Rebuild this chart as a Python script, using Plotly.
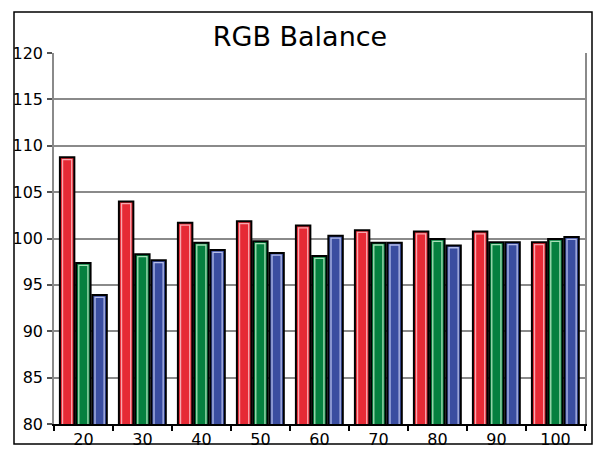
import plotly.graph_objects as go

categories = ["20", "30", "40", "50", "60", "70", "80", "90", "100"]
red_vals = [108.75, 104.0, 101.7, 101.85, 101.4, 100.9, 100.75, 100.75, 99.6]
green_vals = [97.35, 98.3, 99.55, 99.7, 98.1, 99.55, 99.95, 99.6, 99.95]
blue_vals = [93.9, 97.65, 98.75, 98.45, 100.3, 99.55, 99.25, 99.6, 100.15]
y_ticks = [80, 85, 90, 95, 100, 105, 110, 115, 120]

series = [
    ("Red", red_vals, "#E62A35", "#F8A9B0", -0.40),
    ("Green", green_vals, "#05803F", "#A8E0B8", -0.125),
    ("Blue", blue_vals, "#3A4DA0", "#B4BCE8", 0.15),
]
BAR_W = 0.245

fig = go.Figure()
for name, vals, col, light, off in series:
    fig.add_trace(go.Bar(
        x=categories, y=vals, name=name,
        marker=dict(color=col, line=dict(color="black", width=2)),
        offset=off, width=BAR_W, hoverinfo="x+y",
    ))
for name, vals, col, light, off in series:
    fig.add_trace(go.Bar(
        x=categories, y=[v - 0.25 for v in vals], name=name + " hl",
        marker=dict(color="rgba(0,0,0,0)", line=dict(color=light, width=1.3)),
        offset=off + 0.045, width=BAR_W - 0.09, hoverinfo="skip",
    ))

L, R, T, B = 54, 15, 53, 30
W, H = 600, 454
pw, ph = W - L - R, H - T - B

fig.update_layout(
    width=W, height=H,
    margin=dict(l=L, r=R, t=T, b=B, autoexpand=False),
    paper_bgcolor="white", plot_bgcolor="white",
    barmode="overlay", showlegend=False,
    font=dict(family="DejaVu Sans", color="black", size=16),
    title=dict(text="RGB Balance", x=0.5, xanchor="center",
               y=1 - 37 / H, yanchor="middle",
               font=dict(size=27, family="DejaVu Sans", color="black")),
    xaxis=dict(
        type="category", tickson="boundaries", ticks="outside", ticklen=5,
        tickcolor="black", tickwidth=1.5, showline=True, linecolor="black",
        linewidth=1.5, showgrid=False, tickfont=dict(size=16),
        range=[-0.5, len(categories) - 0.5], automargin=False,
        ticklabelstandoff=0,
    ),
    yaxis=dict(
        range=[80, 120], tickvals=y_ticks, ticks="outside", ticklen=5,
        tickcolor="#555555", tickwidth=1.5, showline=True, linecolor="#8a8a8a",
        linewidth=1.5, mirror=True, showgrid=True, gridcolor="#8a8a8a",
        gridwidth=1.5, zeroline=False, tickfont=dict(size=16),
        ticklabelstandoff=1, automargin=False,
    ),
    shapes=[dict(
        type="rect", xref="paper", yref="paper",
        x0=(14 - L) / pw, x1=(592 - L) / pw,
        y0=-(444 - (T + ph)) / ph, y1=(T + ph - 12) / ph,
        line=dict(color="black", width=1.5), fillcolor="rgba(0,0,0,0)",
        layer="below",
    )],
)

fig.write_html("out.html")
